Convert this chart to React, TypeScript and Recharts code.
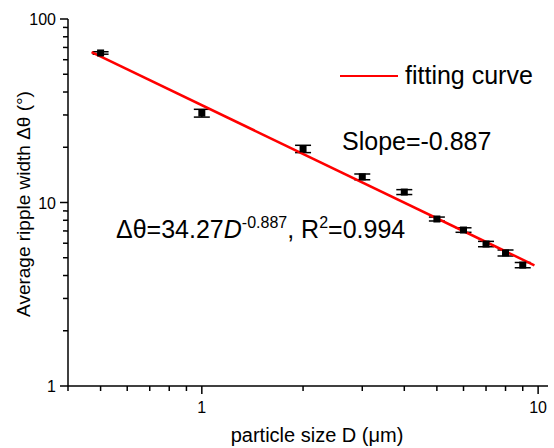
import { ErrorBar, Scatter, ScatterChart, XAxis, YAxis } from 'recharts';

// particle size D (um) and average ripple width (deg)
const sizes = [0.5, 1, 2, 3, 4, 5, 6, 7, 8, 9];
const widths = [65.3, 30.7, 19.6, 13.8, 11.4, 8.13, 7.08, 5.94, 5.31, 4.56];
const widthErr = [1.0, 1.5, 0.9, 0.5, 0.35, 0.2, 0.2, 0.2, 0.2, 0.15];

// fitted line endpoints
const fitX = [0.47, 9.75];
const fitY = [66, 4.55];

const xTicks = [0.4, 0.5, 0.6, 0.7, 0.8, 0.9, 1, 2, 3, 4, 5, 6, 7, 8, 9, 10];
const yTicks = [1, 2, 3, 4, 5, 6, 7, 8, 9, 10, 20, 30, 40, 50, 60, 70, 80, 90, 100];
const majors = [1, 10, 100];

const FONT = '"Liberation Sans", Arial, sans-serif';

const points = sizes.map((d, i) => ({ d, w: widths[i], err: widthErr[i] }));
const fit = fitX.map((d, i) => ({ d, w: fitY[i] }));

const XTick = (p: any) => {
  const v = p.payload.value;
  const major = majors.includes(v);
  return (
    <g>
      <line x1={p.x} y1={p.y} x2={p.x} y2={p.y + (major ? 8 : 5)} stroke='#000' strokeWidth={1.5} />
      {major && (
        <text x={p.x} y={p.y + 27} textAnchor='middle' fontSize={16} fontFamily={FONT} fill='#000'>
          {v}
        </text>
      )}
    </g>
  );
};

const YTick = (p: any) => {
  const v = p.payload.value;
  const major = majors.includes(v);
  return (
    <g>
      <line x1={p.x} y1={p.y} x2={p.x - (major ? 8 : 5)} y2={p.y} stroke='#000' strokeWidth={1.5} />
      {major && (
        <text x={p.x - 12} y={p.y + 6} textAnchor='end' fontSize={16} fontFamily={FONT} fill='#000'>
          {v}
        </text>
      )}
    </g>
  );
};

const Square = (p: any) => <rect x={p.cx - 3.5} y={p.cy - 3.5} width={7} height={7} fill='#000' />;

export default function App() {
  return (
    <div style={{ position: 'absolute', left: 0, top: 0, width: 554, height: 448, background: '#fff' }}>
      <ScatterChart width={554} height={448} margin={{ top: 19, right: 6, bottom: 0, left: 0 }}>
        <XAxis
          type='number'
          dataKey='d'
          scale='log'
          domain={[0.4, 10.7]}
          allowDataOverflow
          ticks={xTicks}
          interval={0}
          height={62}
          tickSize={0}
          tickMargin={0}
          tickLine={false}
          tick={<XTick />}
          axisLine={{ stroke: '#000', strokeWidth: 1.5 }}
        />
        <YAxis
          type='number'
          dataKey='w'
          scale='log'
          domain={[1, 100]}
          allowDataOverflow
          ticks={yTicks}
          interval={0}
          width={68}
          tickSize={0}
          tickMargin={0}
          tickLine={false}
          tick={<YTick />}
          axisLine={{ stroke: '#000', strokeWidth: 1.5 }}
        />
        <Scatter
          data={fit}
          line={{ stroke: '#ff0000', strokeWidth: 2.5 }}
          lineType='joint'
          shape={() => <g />}
          isAnimationActive={false}
        />
        <Scatter data={points} shape={<Square />} isAnimationActive={false}>
          <ErrorBar dataKey='err' direction='y' width={8} stroke='#000' strokeWidth={1.5} />
        </Scatter>
      </ScatterChart>
      <svg
        width={554}
        height={448}
        style={{ position: 'absolute', left: 0, top: 0, pointerEvents: 'none' }}
        fontFamily={FONT}
      >
        <line x1={340} y1={76} x2={398} y2={76} stroke='#ff0000' strokeWidth={2} />
        <text x={405} y={84} fontSize={25} fill='#000'>
          fitting curve
        </text>
        <text x={342} y={150} fontSize={25} fill='#000'>
          Slope=-0.887
        </text>
        <text x={116} y={238} fontSize={25} fill='#000'>
          Δθ=34.27<tspan fontStyle='italic'>D</tspan>
          <tspan fontSize={16} dy={-10}>-0.887</tspan>
          <tspan dy={10}>, R</tspan>
          <tspan fontSize={16} dy={-10}>2</tspan>
          <tspan dy={10}>=0.994</tspan>
        </text>
        <text x={317} y={442} textAnchor='middle' fontSize={20} fill='#000'>
          particle size D (μm)
        </text>
        <text
          x={30}
          y={204}
          textAnchor='middle'
          fontSize={19}
          fill='#000'
          transform='rotate(-90 30 204)'
        >
          Average ripple width Δθ (°)
        </text>
      </svg>
    </div>
  );
}
